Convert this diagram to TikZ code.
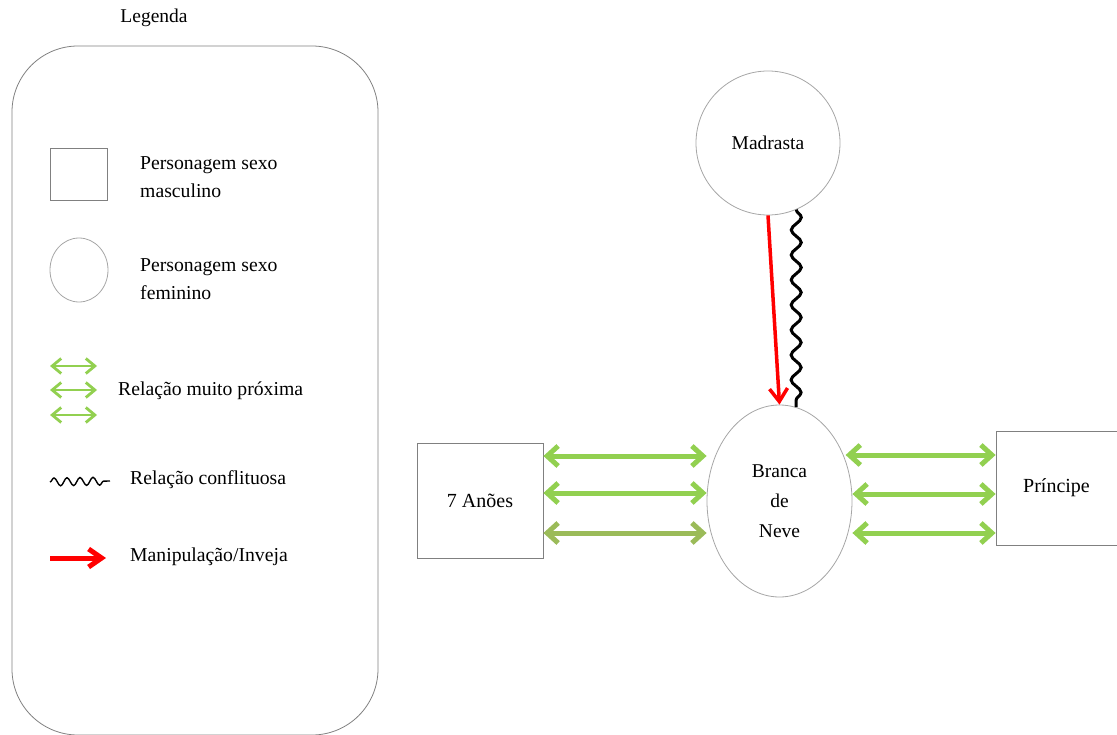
\documentclass[tikz,border=0pt]{standalone}
\usepackage{fontspec}
\setmainfont{Liberation Serif}
\usepackage{xcolor}
\usetikzlibrary{arrows.meta,positioning,shapes.geometric,decorations.pathmorphing}

\definecolor{verdeRel}{HTML}{92D050}
\definecolor{verdeOliva}{HTML}{9BBB59}
\definecolor{cinzaLinha}{HTML}{A6A6A6}
\definecolor{cinzaCaixa}{HTML}{808080}

\begin{document}
\begin{tikzpicture}[x=1pt, y=-1pt,
  fem/.style={draw=cinzaLinha, line width=0.8pt, circle, minimum size=144pt,
    inner sep=0pt, font=\fontsize{19.5}{30}\selectfont, align=center},
  femE/.style={fem, ellipse, minimum width=145pt, minimum height=192pt},
  masc/.style={draw=cinzaCaixa, line width=0.8pt, rectangle, inner sep=0pt,
    font=\fontsize{20}{30}\selectfont},
  txt/.style={font=\fontsize{19.7}{28}\selectfont, anchor=west, align=left, inner sep=0pt},
  proxima/.style={{Straight Barb[length=11pt,width=20pt]}-{Straight Barb[length=11pt,width=20pt]},
    line width=5pt, draw=verdeRel},
  proximaP/.style={{Straight Barb[length=9pt,width=15pt]}-{Straight Barb[length=9pt,width=15pt]},
    line width=2.8pt, draw=verdeRel},
  inveja/.style={-{Straight Barb[length=13pt,width=18pt]}, line width=3.5pt, draw=red},
  conflito/.style={line width=3pt, decorate,
    decoration={snake, segment length=25pt, amplitude=5pt}},
]
\useasboundingbox (0,0) rectangle (1117,735);

% legenda
\node[font=\fontsize{19.5}{28}\selectfont] (tleg) at (154,18) {Legenda};
\draw[draw=cinzaCaixa, line width=0.8pt, rounded corners=66pt] (12,46) rectangle (378,735);
\node[masc, minimum width=57pt, minimum height=52pt] (lmasc) at (78.5,174) {};
\node[txt] (tmasc) at (140,177) {Personagem sexo\\masculino};
\node[fem, ellipse, minimum width=58pt, minimum height=64pt] (lfem) at (79,270) {};
\node[txt] (tfem) at (140,279) {Personagem sexo\\feminino};
\coordinate (lg1) at (50,366);
\coordinate (lg2) at (50,390);
\coordinate (lg3) at (50,415);
\draw[proximaP] (lg1) -- ++(47,0);
\draw[proximaP] (lg2) -- ++(47,0);
\draw[proximaP] (lg3) -- ++(47,0);
\node[txt] (tprox) at (118,391) {Relação muito próxima};
\coordinate (lw) at (50,482);
\draw[line width=1.4pt, decorate, decoration={snake, segment length=13pt, amplitude=4pt}]
  (lw) -- ++(60,-1);
\node[txt] (tconf) at (130,480) {Relação conflituosa};
\coordinate (lr) at (50,558);
\draw[inveja, line width=5pt] (lr) -- ++(56,0);
\node[txt] (tinv) at (130,557) {Manipulação/Inveja};

% personagens
\node[fem] (madrasta) at (768,143) {Madrasta};
\node[femE] (branca) at (779.5,501) {Branca\\de\\Neve};
\node[masc, minimum width=126pt, minimum height=115pt] (anoes) at (480,500.5) {7 Anões};
\node[masc, minimum width=121pt, minimum height=114pt] (principe) at (1056.5,488) {Príncipe};

% relações
\draw[inveja] (madrasta.south) -- (branca.north);
\draw[conflito] (madrasta.-67) -- (branca.80);
\draw[proxima] ([yshift=44.5pt]anoes.east) -- ([yshift=44.5pt]anoes.east -| branca.west);
\draw[proxima] ([yshift=7.5pt]anoes.east) -- ([yshift=7.5pt]anoes.east -| branca.west);
\draw[proxima, draw=verdeOliva] ([yshift=-32.5pt]anoes.east) -- ([yshift=-32.5pt]anoes.east -| branca.west);
\draw[proxima] ([yshift=33pt]principe.west -| branca.west) ++(139,0) -- ([yshift=33pt]principe.west);
\draw[proxima] ([yshift=-6pt]principe.west -| branca.east) -- ([yshift=-6pt]principe.west);
\draw[proxima] ([yshift=-45pt]principe.west -| branca.east) -- ([yshift=-45pt]principe.west);
\end{tikzpicture}
\end{document}
